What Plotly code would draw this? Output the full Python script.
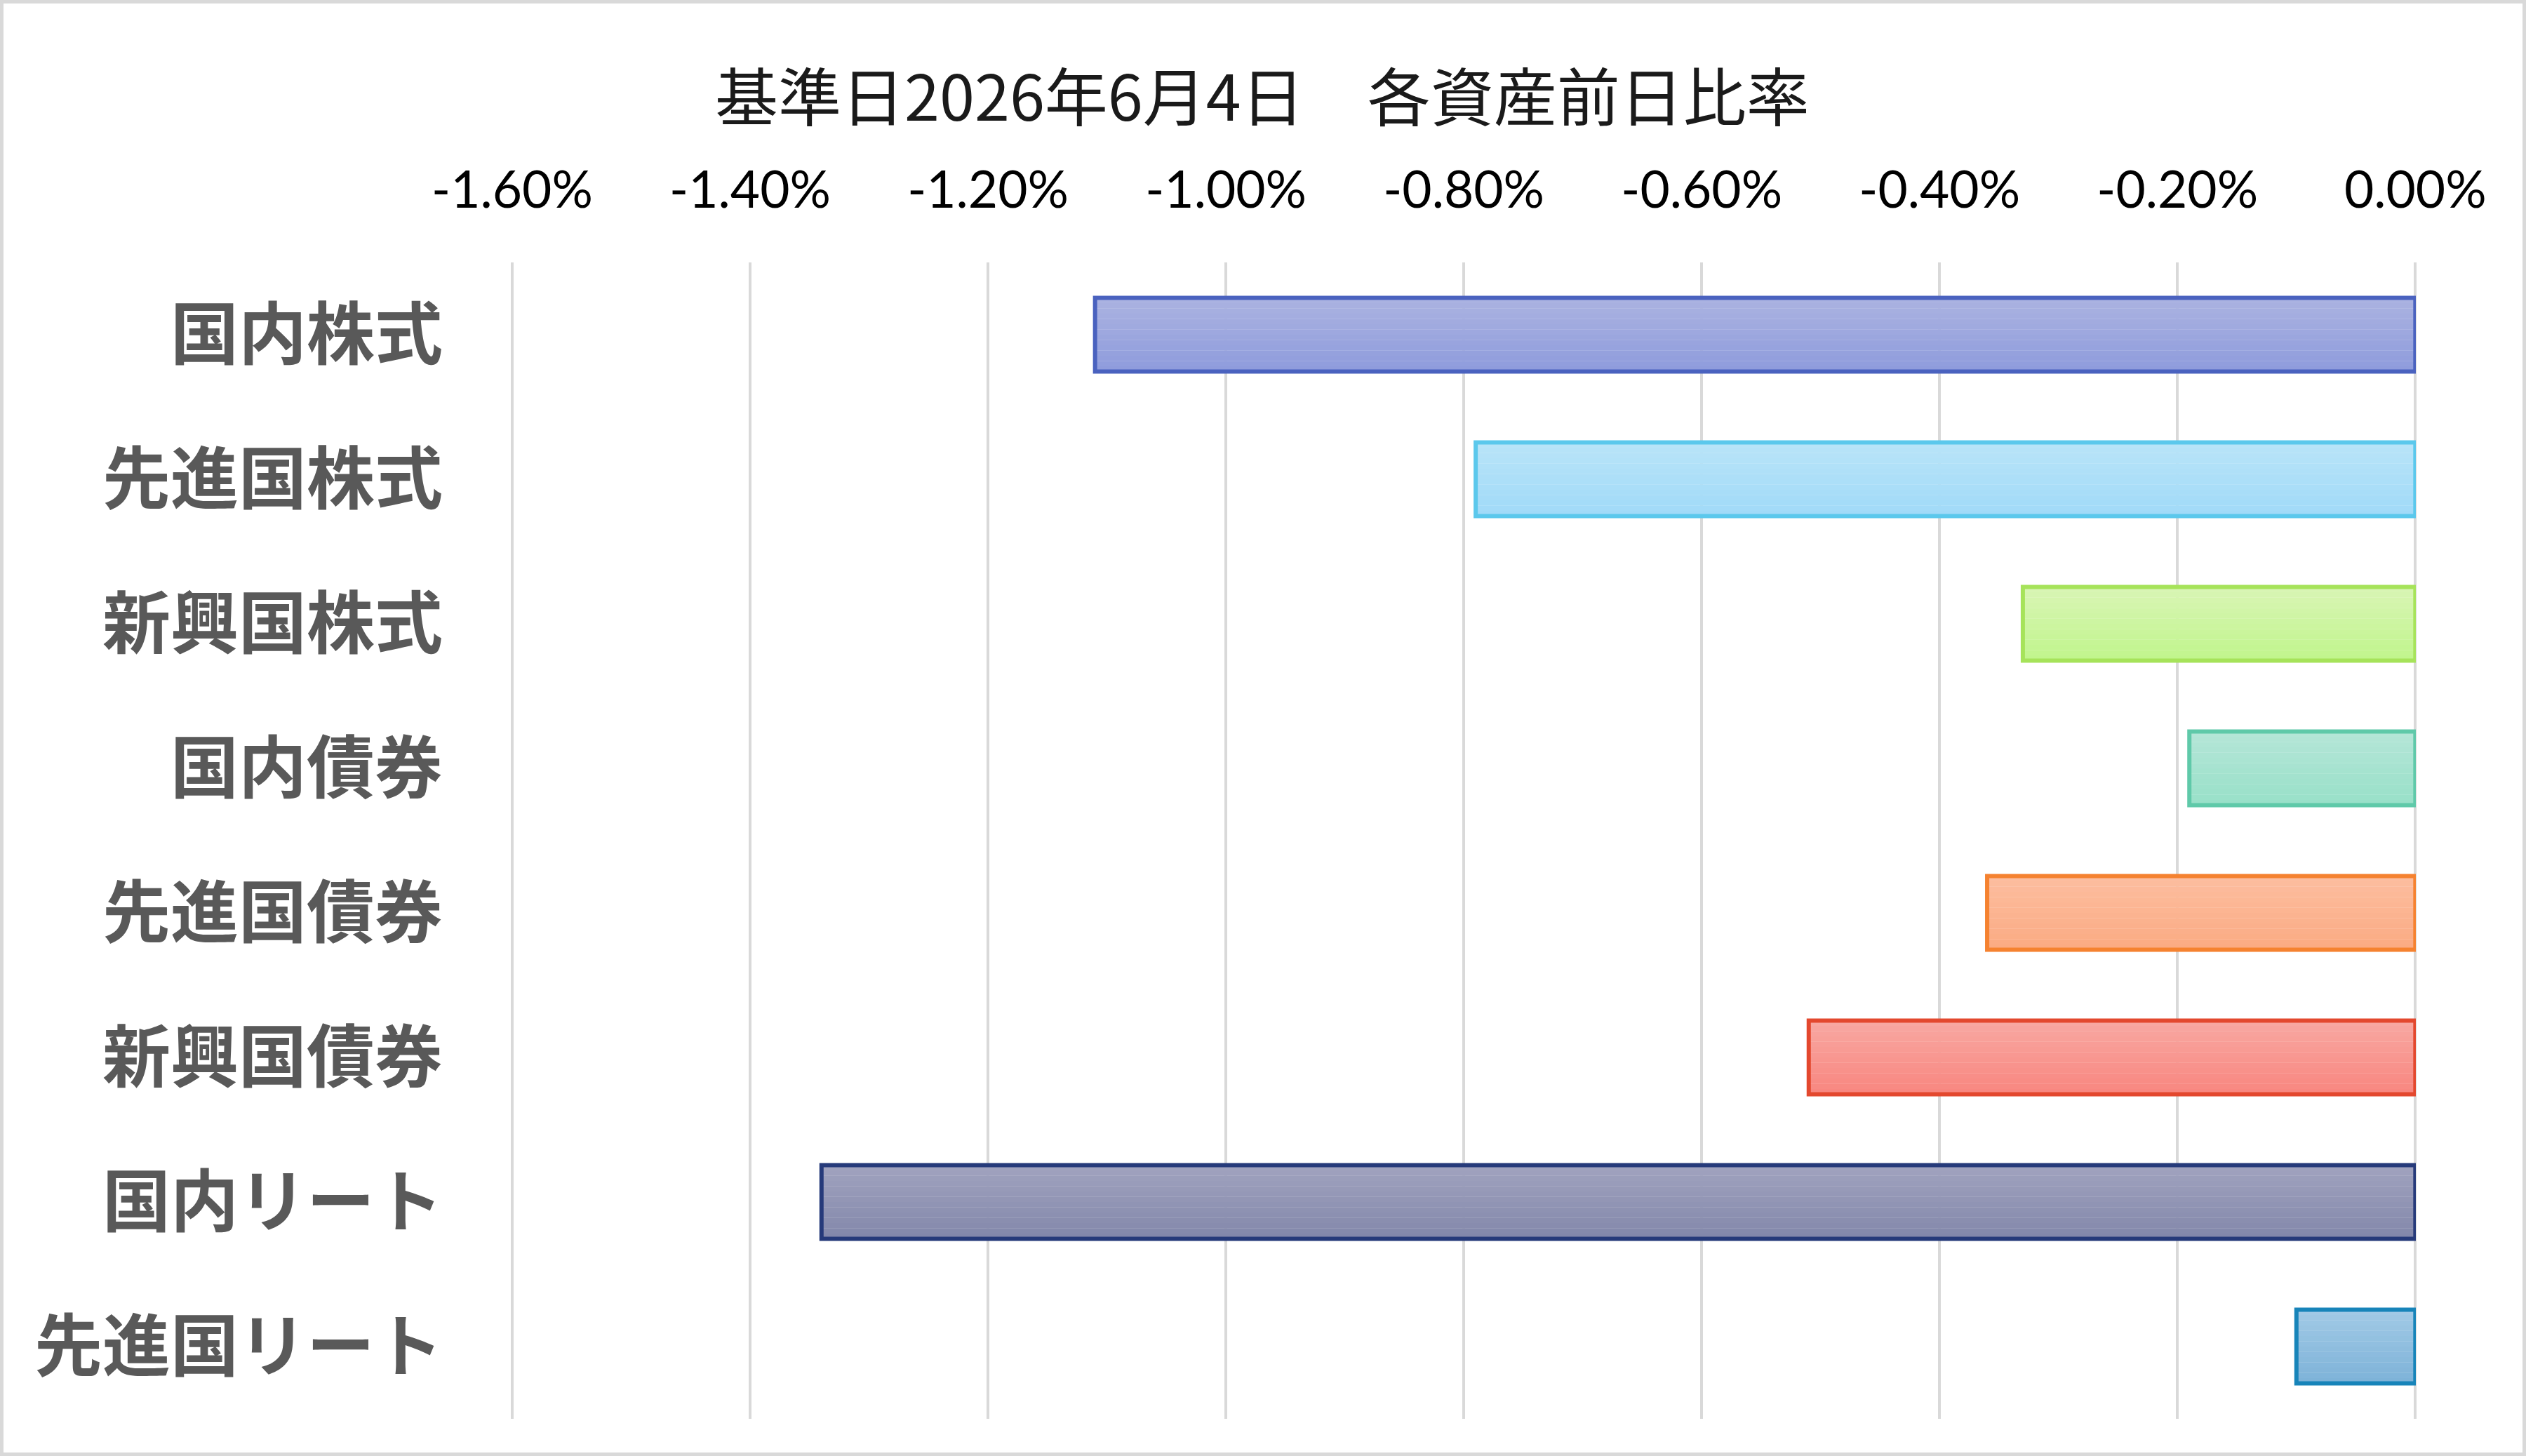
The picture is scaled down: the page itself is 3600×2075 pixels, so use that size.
import plotly.graph_objects as go

# ---- data ----
categories = ["国内株式", "先進国株式", "新興国株式", "国内債券",
              "先進国債券", "新興国債券", "国内リート", "先進国リート"]
values = [-1.11, -0.79, -0.33, -0.19, -0.36, -0.51, -1.34, -0.10]  # percent
tick_vals = [-1.6, -1.4, -1.2, -1.0, -0.8, -0.6, -0.4, -0.2, 0.0]
tick_text = ["-1.60%", "-1.40%", "-1.20%", "-1.00%", "-0.80%",
             "-0.60%", "-0.40%", "-0.20%", "0.00%"]
title_text = "基準日2026年6月4日\u3000各資産前日比率"

# ---- styles ----
top_colors = ["#ABB3E1", "#B9E4F8", "#D9F5B5", "#B5E6D8",
              "#FCBEA0", "#F8A8A2", "#A1A3BF", "#A2CAE6"]
bottom_colors = ["#8E9BDC", "#A0DAF8", "#C0F58C", "#98E0C8",
                 "#FBAA82", "#F8867F", "#8287AA", "#7DB2D8"]
border_colors = ["#4A62BF", "#5BC8EC", "#A6E35A", "#5FC9A9",
                 "#F58230", "#E3482E", "#263A7A", "#1784B9"]

W, H = 3600, 2075
ML, MR, MT, MB = 729, 157, 374, 53
BAR_W = 0.51
N_STRIPS = 14


def hex2rgb(h):
    h = h.lstrip("#")
    return tuple(int(h[i:i + 2], 16) for i in (0, 2, 4))


def mix(c1, c2, t):
    a, b = hex2rgb(c1), hex2rgb(c2)
    return "rgb({},{},{})".format(*[round(a[k] + (b[k] - a[k]) * t) for k in range(3)])


fig = go.Figure()

# vertical gradient fill simulated with thin strips
sw = BAR_W / N_STRIPS
for i in range(N_STRIPS):
    t = (i + 0.5) / N_STRIPS
    fig.add_trace(go.Bar(
        x=values, y=categories, orientation="h",
        width=sw * 1.03, offset=-BAR_W / 2 + i * sw,
        marker=dict(color=[mix(a, b, t) for a, b in zip(top_colors, bottom_colors)],
                    line=dict(width=0)),
        showlegend=False, hoverinfo="skip",
    ))

# outline
fig.add_trace(go.Bar(
    x=values, y=categories, orientation="h",
    width=BAR_W, offset=-BAR_W / 2,
    marker=dict(color="rgba(0,0,0,0)", line=dict(color=border_colors, width=6)),
    showlegend=False,
))

pw = W - ML - MR
ph = H - MT - MB

fig.update_layout(
    width=W, height=H,
    margin=dict(l=ML, r=MR, t=MT, b=MB, pad=0),
    paper_bgcolor="white", plot_bgcolor="white",
    barmode="overlay",
    title=dict(text=title_text, x=0.4997, xref="container", xanchor="center",
               y=1 - 140 / H, yref="container", yanchor="middle",
               font=dict(family="Noto Sans CJK JP", size=90, color="#1a1a1a")),
    xaxis=dict(side="top", range=[-1.6006, 0.0004], tickvals=tick_vals, ticktext=tick_text,
               showgrid=True, gridcolor="#D9D9D9", gridwidth=4,
               zeroline=True, zerolinecolor="#D9D9D9", zerolinewidth=4,
               showline=False, ticks="", ticklabelstandoff=62,
               tickfont=dict(family="Lato", size=73, color="#000000")),
    yaxis=dict(autorange="reversed", showgrid=False, zeroline=False, showline=False,
               ticks="", ticklabelstandoff=97,
               tickfont=dict(family="Noto Sans CJK JP", size=97, color="#595959",
                             weight="bold")),
    shapes=[dict(type="rect", xref="paper", yref="paper",
                 x0=(2.5 - ML) / pw, x1=(W - 2.5 - ML) / pw,
                 y0=-(MB - 2.5) / ph, y1=1 + (MT - 2.5) / ph,
                 line=dict(color="#D9D9D9", width=5), layer="below")],
)

fig.write_html("out.html",
               config={"displayModeBar": False},
               post_script="document.body.style.margin='0';document.body.style.overflow='hidden';")
